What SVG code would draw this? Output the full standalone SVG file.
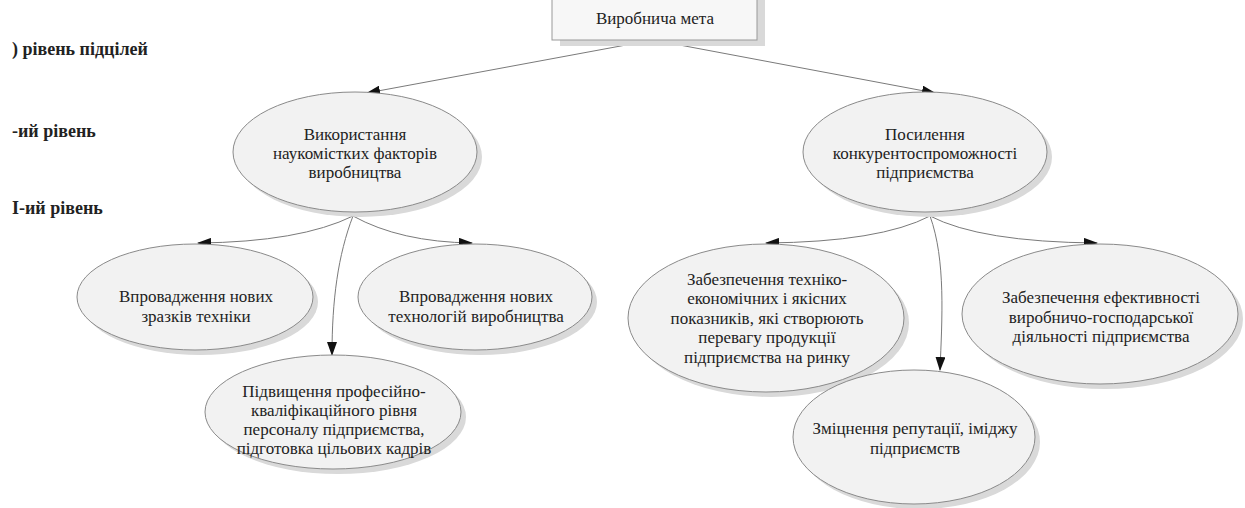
<svg xmlns="http://www.w3.org/2000/svg" width="1245" height="508" viewBox="0 0 1245 508">
<style>
text{font-family:'Liberation Serif','DejaVu Serif',serif;font-size:17px;fill:#222;text-anchor:middle}
.lvl{font-weight:bold;text-anchor:start;font-size:18px}
.node{fill:#f2f2f2;stroke:#8a8a8a;stroke-width:1}
.sh{fill:#d9d9d9}
.con{fill:none;stroke:#7a7a7a;stroke-width:1;marker-end:url(#ah)}
</style>
<defs>
<marker id="ah" markerWidth="14" markerHeight="10" refX="13" refY="5" orient="auto" markerUnits="userSpaceOnUse">
<path d="M0,0 L14,5 L0,10 Z" fill="#111"/>
</marker>
</defs>
<rect width="1245" height="508" fill="#fff"/>
<g id="labels">
<text class="lvl" x="12" y="55">) рівень підцілей</text>
<text class="lvl" x="12" y="137">-ий рівень</text>
<text class="lvl" x="12" y="214">I-ий рівень</text>
</g>
<g id="connectors">
<path class="con" d="M653,40 L367,93"/>
<path class="con" d="M653,40 L935,93"/>
<path class="con" d="M353,216 Q300,242 198,243"/>
<path class="con" d="M353,216 Q400,242 472,243"/>
<path class="con" d="M353,216 C338,255 332,300 332,355"/>
<path class="con" d="M930,216 Q880,242 766,243"/>
<path class="con" d="M930,216 Q980,242 1097,243"/>
<path class="con" d="M930,216 C946,260 942,320 940,370"/>
</g>
<g id="n0">
<rect class="sh" x="560" y="0" width="205" height="46"/>
<rect class="node" x="552" y="-6" width="205" height="46" style="fill:#f7f7f7;stroke:#999"/>
<text x="655" y="24">Виробнича мета</text>
</g>
<g id="n1">
<ellipse class="sh" cx="360" cy="157" rx="122" ry="60"/>
<ellipse class="node" cx="355" cy="152" rx="122" ry="60"/>
<text x="355" y="140">Використання</text>
<text x="355" y="159">наукомістких факторів</text>
<text x="355" y="178">виробництва</text>
</g>
<g id="n2">
<ellipse class="sh" cx="930" cy="157" rx="122" ry="60"/>
<ellipse class="node" cx="925" cy="152" rx="122" ry="60"/>
<text x="925" y="140">Посилення</text>
<text x="925" y="159">конкурентоспроможності</text>
<text x="925" y="178">підприємства</text>
</g>
<g id="n3">
<ellipse class="sh" cx="200" cy="302" rx="118" ry="53"/>
<ellipse class="node" cx="195" cy="297" rx="118" ry="53"/>
<text x="196" y="302">Впровадження нових</text>
<text x="196" y="322">зразків техніки</text>
</g>
<g id="n4">
<ellipse class="sh" cx="480" cy="302" rx="117" ry="53"/>
<ellipse class="node" cx="475" cy="297" rx="117" ry="53"/>
<text x="476" y="302">Впровадження нових</text>
<text x="476" y="322">технологій виробництва</text>
</g>
<g id="n5">
<ellipse class="sh" cx="338" cy="417" rx="128" ry="57"/>
<ellipse class="node" cx="333" cy="412" rx="128" ry="57"/>
<text x="334" y="397">Підвищення професійно-</text>
<text x="334" y="416">кваліфікаційного рівня</text>
<text x="334" y="435">персоналу підприємства,</text>
<text x="334" y="454">підготовка цільових кадрів</text>
</g>
<g id="n6">
<ellipse class="sh" cx="771" cy="323" rx="138" ry="74"/>
<ellipse class="node" cx="766" cy="318" rx="138" ry="74"/>
<text x="767" y="285">Забезпечення техніко-</text>
<text x="767" y="304">економічних і якісних</text>
<text x="767" y="324">показників, які створюють</text>
<text x="767" y="343">перевагу продукції</text>
<text x="767" y="363">підприємства на ринку</text>
</g>
<g id="n7">
<ellipse class="sh" cx="1105" cy="319" rx="138" ry="70"/>
<ellipse class="node" cx="1100" cy="314" rx="138" ry="70"/>
<text x="1101" y="303">Забезпечення ефективності</text>
<text x="1101" y="323">виробничо-господарської</text>
<text x="1101" y="342">діяльності підприємства</text>
</g>
<g id="n8">
<ellipse class="sh" cx="919" cy="442" rx="121" ry="67"/>
<ellipse class="node" cx="914" cy="437" rx="121" ry="67"/>
<text x="915" y="434">Зміцнення репутації, іміджу</text>
<text x="915" y="454">підприємств</text>
</g>
</svg>
